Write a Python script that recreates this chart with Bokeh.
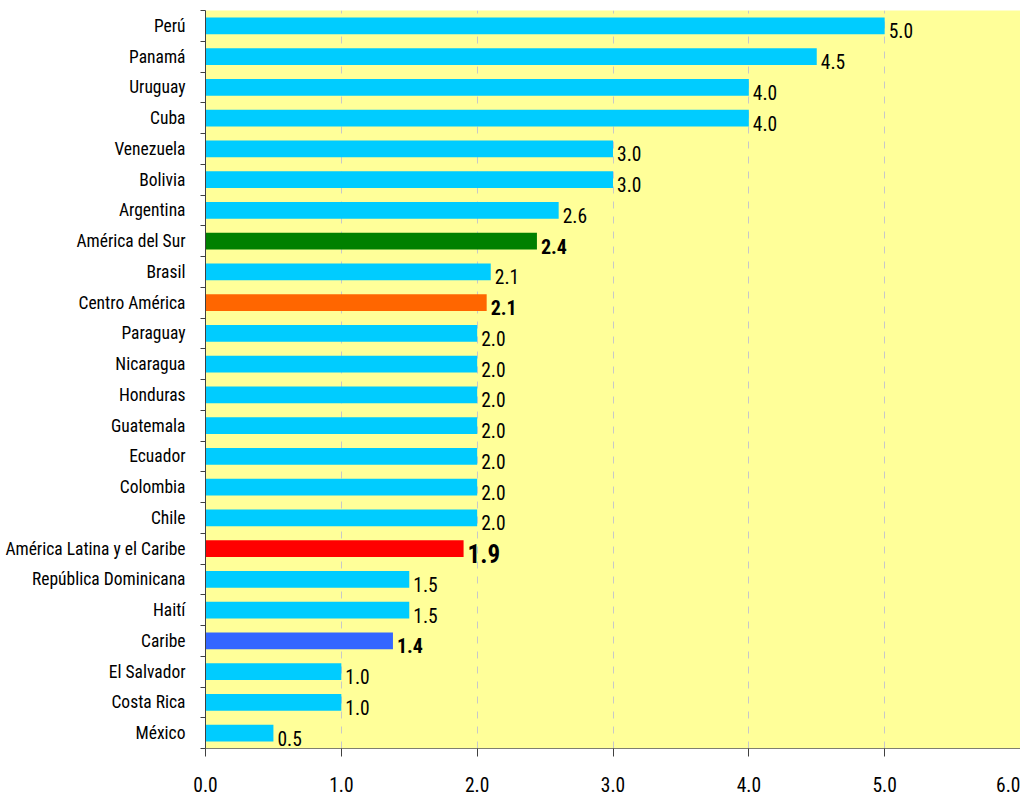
from bokeh.plotting import figure
from bokeh.models import Range1d, FixedTicker, PrintfTickFormatter, ColumnDataSource
from bokeh.embed import file_html
from bokeh.resources import INLINE
from bokeh.core.properties import value

# ---- data (top to bottom) ----
countries = ["Perú", "Panamá", "Uruguay", "Cuba", "Venezuela", "Bolivia", "Argentina",
             "América del Sur", "Brasil", "Centro América", "Paraguay", "Nicaragua",
             "Honduras", "Guatemala", "Ecuador", "Colombia", "Chile",
             "América Latina y el Caribe", "República Dominicana", "Haití", "Caribe",
             "El Salvador", "Costa Rica", "México"]
rates = [5.0, 4.5, 4.0, 4.0, 3.0, 3.0, 2.6, 2.44, 2.1, 2.07, 2.0, 2.0, 2.0, 2.0,
         2.0, 2.0, 2.0, 1.9, 1.5, 1.5, 1.38, 1.0, 1.0, 0.5]
x_ticks = [0, 1, 2, 3, 4, 5, 6]

# ---- styles ----
FONT = "'Roboto Condensed', 'Liberation Sans Narrow', 'DejaVu Sans Condensed', sans-serif"
BASE_COLOR = "#00CCFF"
emphasis = {
    "América del Sur": ("#008000", "bold", "20px"),
    "Centro América": ("#FF6600", "bold", "20px"),
    "América Latina y el Caribe": ("#FF0000", "bold", "25px"),
    "Caribe": ("#3366FF", "bold", "20px"),
}

n = len(countries)
ypos = [n - 1 - i for i in range(n)]
colors = [emphasis.get(c, (BASE_COLOR,))[0] for c in countries]
styles = [emphasis[c][1] if c in emphasis else "normal" for c in countries]
sizes = [emphasis[c][2] if c in emphasis else "19.5px" for c in countries]
labels = [f"{v:.1f}" for v in rates]

src = ColumnDataSource(dict(y=ypos, rate=rates, color=colors, label=labels,
                            style=styles, size=sizes, name=countries))

p = figure(width=1020, height=799, output_backend="svg", toolbar_location=None,
           x_range=Range1d(x_ticks[0], x_ticks[-1]), y_range=Range1d(-0.5, n - 0.5),
           min_border_left=205, min_border_right=0, min_border_top=10,
           min_border_bottom=51)
p.background_fill_color = "#FFFF99"
p.border_fill_color = "white"
p.outline_line_color = None

p.hbar(y="y", left=0, right="rate", height=0.54, fill_color="color",
       line_color=None, source=src)

p.text(x="rate", y="y", text="label", source=src, x_offset=4, y_offset=5,
       text_baseline="middle", text_align="left", text_color="black",
       text_font=value(FONT), text_font_size="size", text_font_style="style")

# y axis: labels at centres, ticks at boundaries
yax = p.yaxis[0]
yax.ticker = FixedTicker(ticks=ypos, minor_ticks=[k - 0.5 for k in range(n + 1)])
yax.major_label_overrides = {y: c for y, c in zip(ypos, countries)}
yax.major_tick_out = 0
yax.major_tick_in = 0
yax.minor_tick_out = 5
yax.minor_tick_in = 0
yax.minor_tick_line_color = "#404040"
yax.axis_line_color = "#404040"
yax.major_label_standoff = 15
yax.major_label_text_font = FONT
yax.major_label_text_font_size = "17.5px"
yax.major_label_text_color = "black"

# x axis
xax = p.xaxis[0]
xax.ticker = FixedTicker(ticks=x_ticks)
xax.formatter = PrintfTickFormatter(format="%.1f")
xax.major_tick_out = 8
xax.major_tick_in = 0
xax.minor_tick_line_color = None
xax.axis_line_color = "#7F7F70"
xax.major_tick_line_color = "#404040"
xax.major_label_standoff = 20
xax.major_label_text_font = FONT
xax.major_label_text_font_size = "19.5px"
xax.major_label_text_color = "black"

p.xgrid.ticker = FixedTicker(ticks=x_ticks[1:-1])
p.xgrid.grid_line_color = "#C8C8C8"
p.xgrid.grid_line_dash = "7 8"
p.ygrid.visible = False

open("out.html", "w").write(file_html(p, INLINE))
